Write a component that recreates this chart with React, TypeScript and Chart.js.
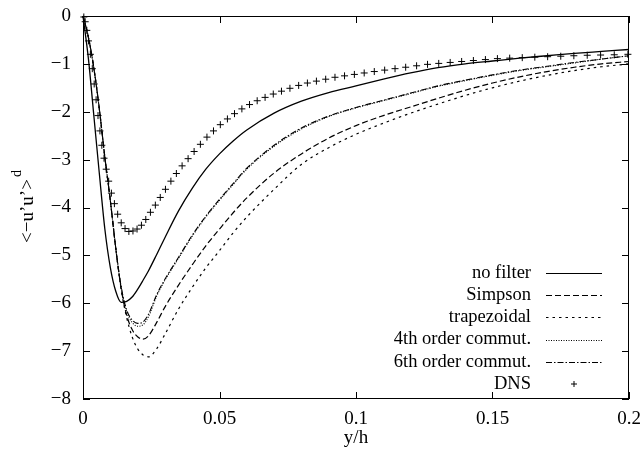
import React, { useEffect, useRef } from "react";
import { Chart, registerables } from "chart.js";

Chart.register(...registerables);

const X_TICKS = [0, 0.05, 0.1, 0.15, 0.2];
const X_TICK_LABELS = ["0", "0.05", "0.1", "0.15", "0.2"];
const Y_TICKS = [0, -1, -2, -3, -4, -5, -6, -7, -8];
const Y_TICK_LABELS = ["0", "\u22121", "\u22122", "\u22123", "\u22124", "\u22125", "\u22126", "\u22127", "\u22128"];

const X_GRID = [0, 0.002, 0.004, 0.006, 0.008, 0.01, 0.012, 0.014, 0.016, 0.018, 0.02, 0.022, 0.024, 0.027, 0.03, 0.035, 0.04, 0.045, 0.05, 0.055, 0.06, 0.07, 0.08, 0.09, 0.1, 0.11, 0.12, 0.13, 0.14, 0.15, 0.16, 0.17, 0.18, 0.19, 0.2];

const NO_FILTER = [0, -0.9, -2.1, -3.3, -4.45, -5.25, -5.75, -5.98, -5.96, -5.87, -5.71, -5.52, -5.32, -4.98, -4.63, -4.07, -3.6, -3.2, -2.88, -2.61, -2.38, -2.03, -1.78, -1.6, -1.46, -1.32, -1.19, -1.08, -1.0, -0.94, -0.88, -0.83, -0.78, -0.74, -0.7];
const SIMPSON = [0, -0.45, -1.1, -1.95, -2.95, -3.85, -4.85, -5.7, -6.25, -6.55, -6.7, -6.75, -6.68, -6.4, -6.08, -5.62, -5.2, -4.8, -4.45, -4.11, -3.8, -3.28, -2.88, -2.55, -2.29, -2.08, -1.9, -1.72, -1.55, -1.4, -1.27, -1.16, -1.07, -1.0, -0.95];
const TRAPEZOIDAL = [0, -0.45, -1.1, -1.95, -2.95, -3.85, -4.85, -5.72, -6.3, -6.7, -6.95, -7.08, -7.12, -6.95, -6.65, -6.12, -5.67, -5.26, -4.9, -4.53, -4.2, -3.62, -3.1, -2.75, -2.47, -2.24, -2.03, -1.84, -1.66, -1.5, -1.36, -1.24, -1.14, -1.06, -1.0];
const FOURTH = [0, -0.45, -1.1, -1.95, -2.95, -3.85, -4.85, -5.68, -6.18, -6.4, -6.48, -6.45, -6.28, -5.85, -5.52, -5.06, -4.6, -4.2, -3.85, -3.52, -3.2, -2.72, -2.36, -2.1, -1.92, -1.77, -1.62, -1.47, -1.35, -1.24, -1.14, -1.06, -0.98, -0.9, -0.83];
const SIXTH = [0, -0.45, -1.1, -1.95, -2.95, -3.85, -4.85, -5.66, -6.14, -6.35, -6.42, -6.39, -6.23, -5.82, -5.5, -5.04, -4.58, -4.18, -3.83, -3.5, -3.18, -2.7, -2.34, -2.09, -1.91, -1.76, -1.61, -1.46, -1.34, -1.23, -1.13, -1.05, -0.97, -0.9, -0.83];

const DNS_X = [0.0003, 0.0008, 0.0014, 0.002, 0.0027, 0.0034, 0.0041, 0.0048, 0.0055, 0.0062, 0.0069, 0.0077, 0.0085, 0.0094, 0.0104, 0.0115, 0.0127, 0.014, 0.0154, 0.0168, 0.0183, 0.0198, 0.0214, 0.023, 0.0247, 0.0265, 0.0283, 0.0302, 0.0322, 0.0342, 0.0363, 0.0385, 0.0407, 0.043, 0.0454, 0.0478, 0.0503, 0.0529, 0.0555, 0.0582, 0.061, 0.0638, 0.0667, 0.0697, 0.0727, 0.0758, 0.079, 0.0822, 0.0855, 0.0889, 0.0923, 0.0958, 0.0994, 0.103, 0.1067, 0.1105, 0.1143, 0.1182, 0.1222, 0.1262, 0.1303, 0.1345, 0.1387, 0.143, 0.1474, 0.1518, 0.1563, 0.1609, 0.1655, 0.1702, 0.175, 0.1798, 0.1847, 0.1896, 0.1946, 0.1996];
const DNS_Y = [-0.02, -0.12, -0.3, -0.52, -0.8, -1.1, -1.42, -1.75, -2.08, -2.4, -2.7, -2.97, -3.2, -3.45, -3.7, -3.92, -4.14, -4.32, -4.44, -4.5, -4.49, -4.45, -4.37, -4.25, -4.1, -3.95, -3.79, -3.62, -3.45, -3.29, -3.13, -2.98, -2.83, -2.68, -2.53, -2.4, -2.27, -2.15, -2.04, -1.94, -1.85, -1.77, -1.7, -1.63, -1.57, -1.51, -1.45, -1.4, -1.36, -1.32, -1.28, -1.25, -1.22, -1.19, -1.16, -1.13, -1.1, -1.07, -1.04, -1.01, -0.99, -0.97, -0.95, -0.93, -0.91, -0.89, -0.88, -0.87, -0.86, -0.85, -0.84, -0.83, -0.82, -0.815, -0.81, -0.8];

const SERIES_NAMES = ["no filter", "Simpson", "trapezoidal", "4th order commut.", "6th order commut.", "DNS"];

const FONT = "'Liberation Serif', 'DejaVu Serif', serif";

const toPts = (ys: number[]) => X_GRID.map((x, i) => ({ x, y: ys[i] }));

const DASHES: number[][] = [[], [6, 3], [2.5, 4], [1, 1.5], [6, 2, 1.5, 2]];

const framePlugin = {
  id: "frame",
  afterDatasetsDraw(chart: any) {
    const ctx = chart.ctx;
    const { left, right, top, bottom } = chart.chartArea;
    const xs = chart.scales.x;
    const ys = chart.scales.y;
    ctx.save();
    ctx.strokeStyle = "#000";
    ctx.lineWidth = 1;
    ctx.setLineDash([]);
    ctx.strokeRect(left + 0.5, top + 0.5, right - left - 1, bottom - top - 1);
    const tl = 7;
    ctx.beginPath();
    X_TICKS.forEach((v) => {
      const px = Math.round(xs.getPixelForValue(v)) + 0.5;
      ctx.moveTo(px, bottom);
      ctx.lineTo(px, bottom - tl);
      ctx.moveTo(px, top);
      ctx.lineTo(px, top + tl);
    });
    Y_TICKS.forEach((v) => {
      const py = Math.round(ys.getPixelForValue(v)) + 0.5;
      ctx.moveTo(left, py);
      ctx.lineTo(left + tl, py);
      ctx.moveTo(right, py);
      ctx.lineTo(right - tl, py);
    });
    ctx.stroke();

    ctx.fillStyle = "#000";
    ctx.font = `19px ${FONT}`;
    ctx.textAlign = "center";
    ctx.textBaseline = "middle";
    X_TICKS.forEach((v, i) => {
      ctx.fillText(X_TICK_LABELS[i], xs.getPixelForValue(v), bottom + 20);
    });
    ctx.textAlign = "right";
    Y_TICKS.forEach((v, i) => {
      ctx.fillText(Y_TICK_LABELS[i], left - 12, ys.getPixelForValue(v));
    });
    ctx.textAlign = "center";
    ctx.fillText("y/h", (left + right) / 2, bottom + 39);

    // y title
    ctx.save();
    ctx.translate(28, 211);
    ctx.rotate(-Math.PI / 2);
    ctx.textAlign = "left";
    ctx.font = `19px ${FONT}`;
    const main = "<\u2212u\u2019u\u2019>";
    const w = ctx.measureText(main).width;
    ctx.fillText(main, -w / 2, 0);
    ctx.font = `14px ${FONT}`;
    ctx.fillText("d", w / 2 + 2, -11);
    ctx.restore();

    // legend
    const rows = SERIES_NAMES.length;
    const rowH = 22.2;
    const textRight = right - 98;
    const s0 = right - 83;
    const s1 = right - 27;
    ctx.font = `18.5px ${FONT}`;
    ctx.textAlign = "right";
    for (let i = 0; i < rows; i++) {
      const yy = bottom - 15 - (rows - 1 - i) * rowH;
      ctx.fillText(SERIES_NAMES[i], textRight, yy);
      if (i < 5) {
        ctx.setLineDash(DASHES[i]);
        ctx.lineWidth = 1.2;
        ctx.beginPath();
        ctx.moveTo(s0, Math.round(yy) + 0.5);
        ctx.lineTo(s1, Math.round(yy) + 0.5);
        ctx.stroke();
      } else {
        ctx.setLineDash([]);
        ctx.lineWidth = 1;
        const cx = (s0 + s1) / 2;
        ctx.beginPath();
        ctx.moveTo(cx - 3, yy);
        ctx.lineTo(cx + 3, yy);
        ctx.moveTo(cx, yy - 3);
        ctx.lineTo(cx, yy + 3);
        ctx.stroke();
      }
    }
    ctx.restore();
  },
};

export default function App() {
  const ref = useRef<HTMLCanvasElement | null>(null);
  useEffect(() => {
    if (!ref.current) return;
    const lineDs = (label: string, ys: number[], dash: number[], width: number) => ({
      label,
      data: toPts(ys),
      showLine: true,
      borderColor: "#000",
      backgroundColor: "#000",
      borderWidth: width,
      borderDash: dash,
      pointRadius: 0,
      cubicInterpolationMode: "monotone" as const,
      fill: false,
      clip: 4,
    });
    const chart = new Chart(ref.current, {
      type: "scatter",
      data: {
        datasets: [
          lineDs(SERIES_NAMES[0], NO_FILTER, DASHES[0], 1.3),
          lineDs(SERIES_NAMES[1], SIMPSON, DASHES[1], 1.2),
          lineDs(SERIES_NAMES[2], TRAPEZOIDAL, DASHES[2], 1.2),
          lineDs(SERIES_NAMES[3], FOURTH, DASHES[3], 1.1),
          lineDs(SERIES_NAMES[4], SIXTH, DASHES[4], 1.1),
          {
            label: SERIES_NAMES[5],
            data: DNS_X.map((x, i) => ({ x, y: DNS_Y[i] })),
            showLine: false,
            pointStyle: "cross",
            pointRadius: 3.5,
            pointBorderWidth: 1,
            borderColor: "#000",
            backgroundColor: "#000",
            clip: 6,
          } as any,
        ],
      },
      options: {
        responsive: false,
        animation: false,
        layout: { padding: { left: 83, right: 13, top: 16, bottom: 54 } },
        plugins: { legend: { display: false }, tooltip: { enabled: false } },
        scales: {
          x: { type: "linear", min: 0, max: 0.2, display: false },
          y: { type: "linear", min: -8, max: 0, display: false },
        },
      },
      plugins: [framePlugin],
    });
    return () => chart.destroy();
  }, []);
  return (
    <div style={{ position: "fixed", left: 0, top: 0, width: 642, height: 453, background: "#fff" }}>
      <canvas ref={ref} width={642} height={453} style={{ display: "block" }} />
    </div>
  );
}
